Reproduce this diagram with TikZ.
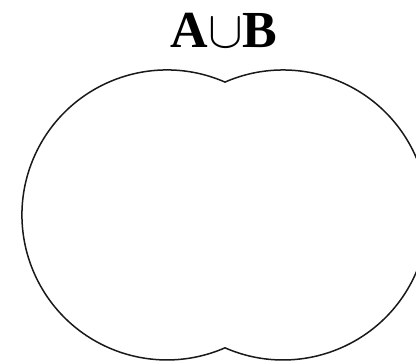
\RequirePackage{fix-cm}
\documentclass[tikz,border=0pt]{standalone}
\usepackage{fontspec}
\setmainfont{Liberation Serif}
\begin{document}
\begin{tikzpicture}[x=1pt,y=1pt,
  outline/.style={draw=black!90, line width=1.5pt},
  title/.style={font=\fontsize{52}{60}\selectfont\bfseries, inner sep=0pt}]
\useasboundingbox (0,0) rectangle (416,363);
\fill[white] (0,0) rectangle (416,363);
\node[title, anchor=base] (t) at (224,315) {A$\cup$B};
\begin{scope}
\clip (0,0) rectangle (416,363);
\coordinate (topnotch) at (225,280.9);
\draw[outline] (topnotch) arc[start angle=66.4, end angle=293.6, radius=145]
  arc[start angle=-113.6, end angle=113.6, radius=145] -- cycle;
\end{scope}
\end{tikzpicture}
\end{document}
